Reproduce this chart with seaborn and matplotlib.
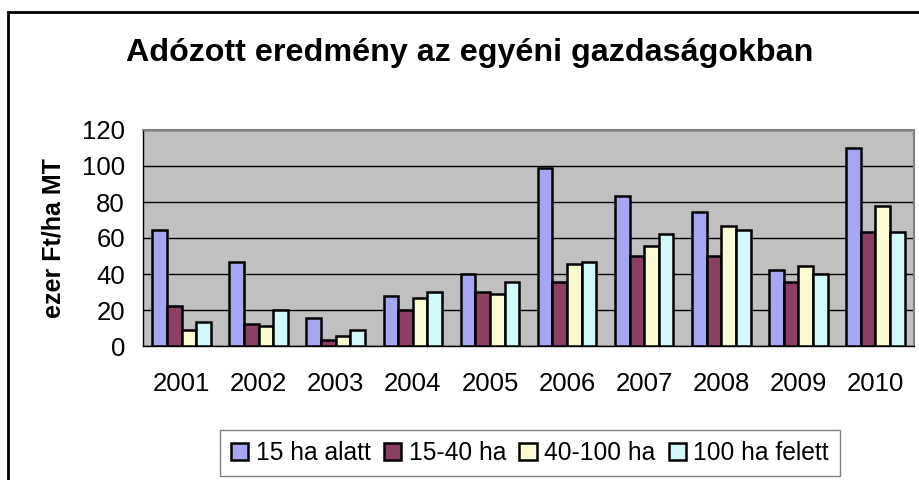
import matplotlib
matplotlib.use("Agg")
import matplotlib.pyplot as plt
from matplotlib.patches import Rectangle
from matplotlib.ticker import FixedLocator
import seaborn as sns
import pandas as pd
import numpy as np

years = ["2001", "2002", "2003", "2004", "2005", "2006", "2007", "2008", "2009", "2010"]
series_names = ["15 ha alatt", "15-40 ha", "40-100 ha", "100 ha felett"]
s_under15 = [64.4, 46.5, 15.4, 27.8, 40.0, 98.7, 83.1, 74.3, 42.0, 109.8]
s_15_40 = [22.2, 12.2, 3.3, 19.8, 30.0, 35.5, 50.0, 50.0, 35.5, 63.3]
s_40_100 = [8.9, 10.9, 5.4, 26.7, 28.9, 45.5, 55.5, 66.7, 44.4, 77.6]
s_over100 = [13.3, 19.8, 8.9, 30.0, 35.5, 46.5, 62.2, 64.4, 40.0, 63.3]
colors = ["#9999FF", "#993366", "#FFFFCC", "#CCFFFF"]

title = "Adózott eredmény az egyéni gazdaságokban"
ylabel = "ezer Ft/ha MT"
yticks = [0, 20, 40, 60, 80, 100, 120]

rows = []
for name, vals in zip(series_names, [s_under15, s_15_40, s_40_100, s_over100]):
    for y, v in zip(years, vals):
        rows.append({"year": y, "series": name, "value": v})
df = pd.DataFrame(rows)

sns.set_theme(style="white")
plt.rcParams["font.family"] = ["Liberation Sans", "DejaVu Sans"]
plt.rcParams["text.color"] = "black"
plt.rcParams["axes.labelcolor"] = "black"
plt.rcParams["xtick.color"] = "black"
plt.rcParams["ytick.color"] = "black"

W, H = 919, 480
fig = plt.figure(figsize=(W / 100, H / 100), dpi=100)
ax = fig.add_axes([143 / W, 1 - 346 / H, (914 - 143) / W, (346 - 130) / H])
ax.set_facecolor("#C0C0C0")

sns.barplot(data=df, x="year", y="value", hue="series", hue_order=series_names,
            order=years, palette=colors, edgecolor="black", linewidth=1.8,
            width=0.76, gap=0, ax=ax, legend=True, zorder=3)

ax.set_ylim(0, 120)
ax.set_xlim(-0.5, len(years) - 0.5)
ax.set_yticks(yticks)
ax.set_yticklabels([str(t) for t in yticks], fontsize=18.5)
ax.yaxis.grid(True, color="black", linewidth=1)
ax.set_axisbelow(True)
for b in ax.patches:
    b.set_zorder(3)

ax.set_xticks(range(len(years)))
ax.set_xticklabels(years, fontsize=18.5)
ax.tick_params(axis="x", which="major", length=0, pad=19)
ax.xaxis.set_minor_locator(FixedLocator(np.arange(-0.5, len(years), 1.0)))
ax.tick_params(axis="x", which="minor", length=6, width=1, color="black", direction="out")
ax.tick_params(axis="y", which="major", length=7, width=1, color="black", direction="out", pad=6)

ax.set_xlabel("")
ax.set_ylabel(ylabel, fontsize=18, fontweight="bold", labelpad=12)

for s in ["left", "bottom"]:
    ax.spines[s].set_color("black")
    ax.spines[s].set_linewidth(1)
for s in ["top", "right"]:
    ax.spines[s].set_color("#808080")
    ax.spines[s].set_linewidth(1.5)

leg = ax.get_legend()
handles = leg.legend_handles
leg.remove()
fig.legend(handles, series_names, loc="center", bbox_to_anchor=(530 / W, 1 - 453 / H),
           ncol=4, fontsize=17.7, frameon=True, fancybox=False, edgecolor="#808080",
           handlelength=0.7, handleheight=0.7, handletextpad=0.3, columnspacing=0.55,
           borderpad=0.45, framealpha=1)

fig.text(470 / W, 1 - 53 / H, title, fontsize=23.2, fontweight="bold", ha="center", va="center")

fig.patches.append(Rectangle((8 / W, -0.1), 1.2, 1 - 12 / H + 0.1, transform=fig.transFigure,
                             fill=False, edgecolor="black", linewidth=2))

fig.savefig("out.png", dpi=100)
